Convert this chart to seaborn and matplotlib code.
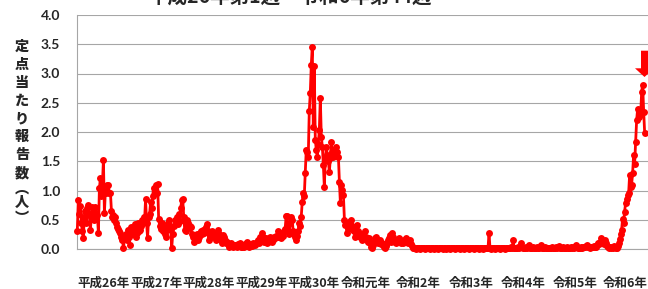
import numpy as np
import pandas as pd
import matplotlib
matplotlib.use("Agg")
import matplotlib.pyplot as plt
import seaborn as sns
from matplotlib.patches import Polygon

sns.set_style("white")
plt.rcParams['font.family'] = ['Noto Sans CJK JP', 'DejaVu Sans']

# ---- data (weekly values per year) ----
y2014 = [0.31, 0.83, 0.60, 0.73, 0.45, 0.30, 0.18, 0.55, 0.65, 0.45,
         0.70, 0.75, 0.60, 0.32, 0.55, 0.72, 0.70, 0.50, 0.71, 0.62,
         0.58, 0.27, 1.04, 1.21, 0.90, 1.10, 1.52, 0.62, 1.00, 0.95,
         1.10, 1.09, 0.95, 0.96, 0.65, 0.55, 0.58, 0.50, 0.54, 0.45,
         0.38, 0.35, 0.30, 0.27, 0.20, 0.15, 0.01, 0.20, 0.25, 0.15,
         0.32, 0.20]
y2015 = [0.07, 0.38, 0.30, 0.25, 0.35, 0.42, 0.20, 0.28, 0.45, 0.30,
         0.32, 0.40, 0.50, 0.45, 0.55, 0.50, 0.85, 0.45, 0.18, 0.55,
         0.60, 0.81, 0.70, 0.90, 1.05, 1.00, 1.09, 0.95, 1.11, 0.52,
         0.40, 0.35, 0.45, 0.30, 0.38, 0.25, 0.20, 0.32, 0.45, 0.50,
         0.40, 0.35, 0.01, 0.25, 0.40, 0.50, 0.45, 0.55, 0.42, 0.60,
         0.48, 0.70, 0.84]
y2016 = [0.85, 0.55, 0.32, 0.30, 0.50, 0.45, 0.38, 0.40, 0.38, 0.25,
         0.20, 0.12, 0.15, 0.20, 0.25, 0.15, 0.20, 0.27, 0.30, 0.25,
         0.32, 0.28, 0.35, 0.38, 0.42, 0.30, 0.15, 0.20, 0.25, 0.30,
         0.28, 0.22, 0.20, 0.15, 0.20, 0.32, 0.25, 0.21, 0.15, 0.10,
         0.24, 0.20, 0.15, 0.10, 0.12, 0.08, 0.04, 0.08, 0.10, 0.06,
         0.04, 0.06]
y2017 = [0.07, 0.05, 0.04, 0.08, 0.06, 0.10, 0.04, 0.03, 0.06, 0.04,
         0.08, 0.06, 0.12, 0.08, 0.04, 0.06, 0.08, 0.05, 0.10, 0.08,
         0.06, 0.10, 0.12, 0.15, 0.10, 0.20, 0.18, 0.27, 0.20, 0.12,
         0.15, 0.18, 0.10, 0.12, 0.15, 0.20, 0.18, 0.12, 0.15, 0.20,
         0.18, 0.22, 0.21, 0.30, 0.20, 0.25, 0.18, 0.27, 0.22, 0.30,
         0.35, 0.57]
y2018 = [0.57, 0.30, 0.25, 0.45, 0.54, 0.50, 0.30, 0.25, 0.20, 0.15,
         0.22, 0.30, 0.44, 0.40, 0.55, 0.81, 0.95, 0.90, 1.30, 1.70,
         1.65, 1.58, 2.36, 2.66, 3.15, 3.45, 2.09, 3.12, 1.86, 1.70,
         1.58, 1.80, 2.03, 2.58, 1.92, 1.75, 1.44, 1.06, 1.55, 1.75,
         1.60, 1.50, 1.32, 1.55, 1.83, 1.65, 1.58, 1.70, 1.62, 1.75,
         1.65, 1.58]
y2019 = [1.15, 0.78, 1.09, 1.01, 0.92, 0.50, 0.41, 0.44, 0.27, 0.35,
         0.47, 0.44, 0.50, 0.40, 0.32, 0.30, 0.21, 0.28, 0.41, 0.30,
         0.27, 0.20, 0.25, 0.15, 0.22, 0.30, 0.20, 0.15, 0.12, 0.18,
         0.10, 0.04, 0.01, 0.06, 0.12, 0.18, 0.21, 0.15, 0.10, 0.12,
         0.15, 0.08, 0.10, 0.07, 0.03, 0.01, 0.05, 0.10, 0.15, 0.18,
         0.24, 0.12]
y2020 = [0.27, 0.20, 0.15, 0.12, 0.10, 0.15, 0.12, 0.18, 0.15, 0.10,
         0.12, 0.10, 0.15, 0.12, 0.18, 0.15, 0.10, 0.12, 0.15, 0.08,
         0.05, 0.01, 0.02, 0.01, 0.00, 0.01, 0.02, 0.01, 0.00, 0.01,
         0.02, 0.01, 0.01, 0.00, 0.01, 0.02, 0.01, 0.01, 0.00, 0.02,
         0.01, 0.01, 0.00, 0.01, 0.02, 0.01, 0.00, 0.01, 0.01, 0.02,
         0.01, 0.00, 0.01]
y2021 = [0.01, 0.00, 0.01, 0.02, 0.01, 0.00, 0.01, 0.01, 0.02, 0.01,
         0.00, 0.01, 0.02, 0.01, 0.01, 0.00, 0.01, 0.02, 0.01, 0.00,
         0.01, 0.01, 0.02, 0.01, 0.00, 0.01, 0.01, 0.02, 0.01, 0.00,
         0.01, 0.02, 0.01, 0.01, 0.00, 0.01, 0.02, 0.01, 0.00, 0.01,
         0.01, 0.02, 0.01, 0.02, 0.27, 0.01, 0.00, 0.01, 0.02, 0.01,
         0.00, 0.01]
y2022 = [0.01, 0.02, 0.01, 0.00, 0.01, 0.02, 0.01, 0.01, 0.00, 0.02,
         0.01, 0.01, 0.02, 0.01, 0.03, 0.02, 0.15, 0.02, 0.01, 0.02,
         0.01, 0.03, 0.02, 0.04, 0.11, 0.03, 0.02, 0.01, 0.02, 0.03,
         0.02, 0.04, 0.07, 0.02, 0.01, 0.02, 0.03, 0.02, 0.01, 0.02,
         0.03, 0.02, 0.01, 0.03, 0.07, 0.02, 0.01, 0.02, 0.03, 0.02,
         0.01, 0.02]
y2023 = [0.02, 0.01, 0.02, 0.03, 0.02, 0.01, 0.02, 0.03, 0.02, 0.03,
         0.05, 0.02, 0.01, 0.02, 0.03, 0.02, 0.01, 0.02, 0.03, 0.02,
         0.01, 0.02, 0.03, 0.02, 0.03, 0.02, 0.04, 0.07, 0.03, 0.02,
         0.01, 0.02, 0.03, 0.02, 0.03, 0.04, 0.03, 0.05, 0.07, 0.04,
         0.03, 0.02, 0.03, 0.04, 0.03, 0.05, 0.04, 0.03, 0.06, 0.10,
         0.08, 0.12]
y2024 = [0.18, 0.12, 0.08, 0.16, 0.10, 0.05, 0.03, 0.02, 0.04, 0.02,
         0.03, 0.02, 0.05, 0.03, 0.01, 0.02, 0.05, 0.10, 0.17, 0.25,
         0.32, 0.52, 0.45, 0.64, 0.78, 0.85, 0.92, 0.95, 1.26, 1.06,
         1.10, 1.30, 1.61, 1.46, 1.83, 2.20, 2.40, 2.25, 2.35, 2.30,
         2.69, 2.81, 2.35, 1.98]

year_labels = ['平成26年', '平成27年', '平成28年', '平成29年', '平成30年',
               '令和元年', '令和2年', '令和3年', '令和4年', '令和5年', '令和6年']
y_ticks = [0.0, 0.5, 1.0, 1.5, 2.0, 2.5, 3.0, 3.5, 4.0]
title_text = '平成26年第1週～令和6年第44週'
ylabel_chars = ['定', '点', '当', 'た', 'り', '報', '告', '数', '︵', '人', '︶']

series = [y2014, y2015, y2016, y2017, y2018, y2019, y2020, y2021, y2022, y2023, y2024]
values = [v for s in series for v in s]
lengths = [len(s) for s in series]
starts = np.concatenate([[0], np.cumsum(lengths)[:-1]])
df = pd.DataFrame({'week': np.arange(len(values)), 'value': values})

# ---- figure ----
W, H = 648, 289
fig = plt.figure(figsize=(W / 100, H / 100), dpi=100)
ax_left, ax_right, ax_top, ax_bot = 77.3, 648.0, 15.0, 249.0
ax = fig.add_axes([ax_left / W, 1 - ax_bot / H, (ax_right - ax_left) / W, (ax_bot - ax_top) / H])

px_per_week = 1.0042
xmax = (ax_right - ax_left) / px_per_week

sns.lineplot(data=df, x='week', y='value', ax=ax, color='#FF0000', linewidth=2.0,
             marker='o', markersize=5.0, markeredgewidth=0, clip_on=False, zorder=3)

ax.set_xlim(0, xmax)
ax.set_ylim(0, 4)
ax.set_yticks(y_ticks)
ax.set_yticklabels([f'{v:.1f}' for v in y_ticks], fontweight='bold',
                   family=['Lato', 'DejaVu Sans'])
ax.grid(axis='y', color='#A6A6A6', linewidth=0.8)
ax.grid(axis='x', visible=False)
ax.set_axisbelow(True)
for side in ['top', 'right']:
    ax.spines[side].set_visible(False)
for side in ['left', 'bottom']:
    ax.spines[side].set_color('#A6A6A6')
    ax.spines[side].set_linewidth(0.8)
ax.set_xticks(starts)
ax.set_xticklabels([])
ax.tick_params(axis='x', length=19, color='#A6A6A6', width=0.8, direction='out')
ax.tick_params(axis='y', length=3.3, color='#A6A6A6', width=0.8, pad=9, labelsize=10)
ax.set_xlabel('')
ax.set_ylabel('')

# year labels centered between year boundaries
ends = list(starts[1:]) + [xmax]
ylab = (ax_bot - 283) / (ax_bot - ax_top)
for s, e, lab in zip(starts, ends, year_labels):
    ax.text((s + e) / 2, ylab, lab, transform=ax.get_xaxis_transform(),
            ha='center', va='center', fontsize=9, fontweight='bold', clip_on=False)

# vertical y-axis label (stacked characters)
ypix = [46.7, 64.8, 82.9, 101.0, 119.1, 137.2, 155.3, 173.4, 189.0, 203.4, 217.8]
for ch, yp in zip(ylabel_chars, ypix):
    fig.text(22 / W, 1 - yp / H, ch, ha='center', va='center', fontsize=10.2, fontweight='heavy')

# title (mostly cropped at top, as in the reference)
fig.text(290 / W, 1 - 3 / H, title_text, ha='center', va='baseline', fontsize=14, fontweight='bold')

# red marker arrow at top right
arrow_px = [(641, 50.7), (649, 50.7), (649, 68.3), (654, 68.3), (644.5, 77), (635, 68.3), (641, 68.3)]
arrow = Polygon([(x / W, 1 - y / H) for x, y in arrow_px], closed=True,
                transform=fig.transFigure, facecolor='#FF0000', edgecolor='none', zorder=10)
fig.patches.append(arrow)

fig.savefig('out.png', dpi=100)
